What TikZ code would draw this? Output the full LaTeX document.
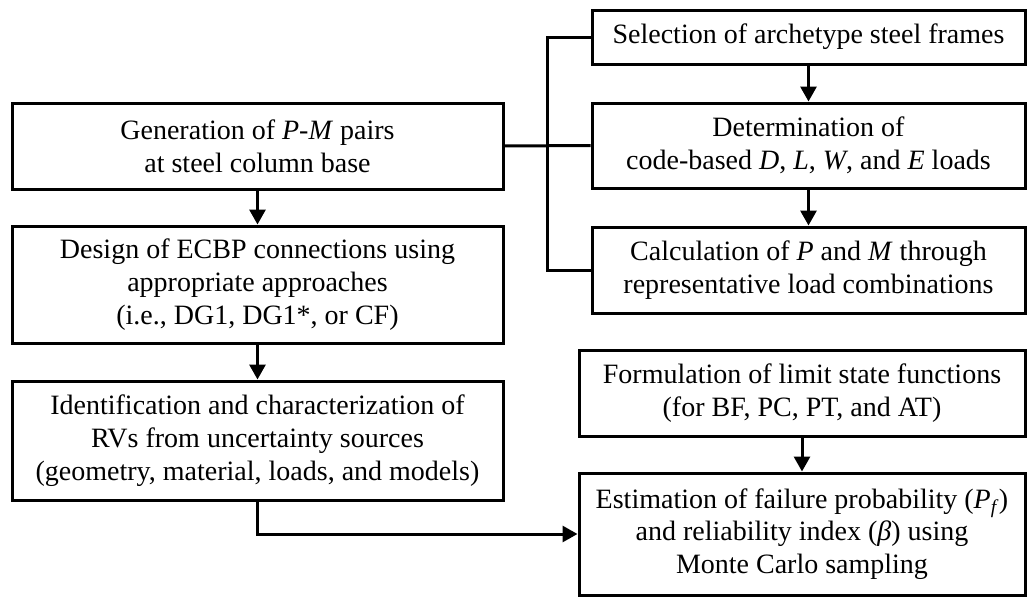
\documentclass[tikz,border=0pt]{standalone}
\usepackage{fontspec}
\setmainfont{Liberation Serif}
\usetikzlibrary{arrows.meta}
\begin{document}
\begin{tikzpicture}[x=1pt,y=-1pt,
  box/.style={draw, line width=3pt, align=center, inner sep=0pt,
    font=\fontsize{28}{32.7}\selectfont},
  conn/.style={line width=3pt},
  arr/.style={conn, -{Triangle[length=15pt,width=16pt]}}]
\useasboundingbox (0,0) rectangle (1027,597);
% left column
\node[box, minimum width=491pt, minimum height=86pt] (b1) at (257.5,146)
  {Generation of \textit{P-M} pairs\\at steel column base};
\node[box, minimum width=491pt, minimum height=117pt] (b2) at (257.5,284.5)
  {Design of ECBP connections using\\appropriate approaches\\(i.e., DG1, DG1*, or CF)};
\node[box, minimum width=491pt, minimum height=119pt] (b3) at (257.5,440.5)
  {Identification and characterization of\\RVs from uncertainty sources\\(geometry, material, loads, and models)};
% right column
\node[box, minimum width=433pt, minimum height=54pt] (bA) at (808.5,37)
  {Selection of archetype steel frames};
\node[box, minimum width=433pt, minimum height=85pt] (bB) at (808.5,145.5)
  {Determination of\\code-based \textit{D}, \textit{L}, \textit{W}, and \textit{E} loads};
\node[box, minimum width=433pt, minimum height=86pt] (bC) at (808.5,270)
  {Calculation of \textit{P} and \textit{M} through\\representative load combinations};
\node[box, minimum width=446pt, minimum height=86pt] (bD) at (802,393)
  {Formulation of limit state functions\\(for BF, PC, PT, and AT)};
\node[box, minimum width=446pt, minimum height=122pt] (bE) at (802,534)
  {Estimation of failure probability (\textit{P}\textsubscript{\textit{f}})\\and reliability index (\textit{β}) using\\Monte Carlo sampling};
% connectors
\coordinate (j) at (547,0);
\draw[conn] (b1.east) -- (bB.west);
\draw[conn] (bA.west) -- (bA.west -| j) -- (bC.west -| j) -- (bC.west);
\draw[arr] (bA) -- (bB);
\draw[arr] (bB) -- (bC);
\draw[arr] (b1) -- (b2);
\draw[arr] (b2) -- (b3);
\draw[arr] (bD) -- (bE);
\draw[arr] (b3.south) |- (bE.west);
\end{tikzpicture}
\end{document}
